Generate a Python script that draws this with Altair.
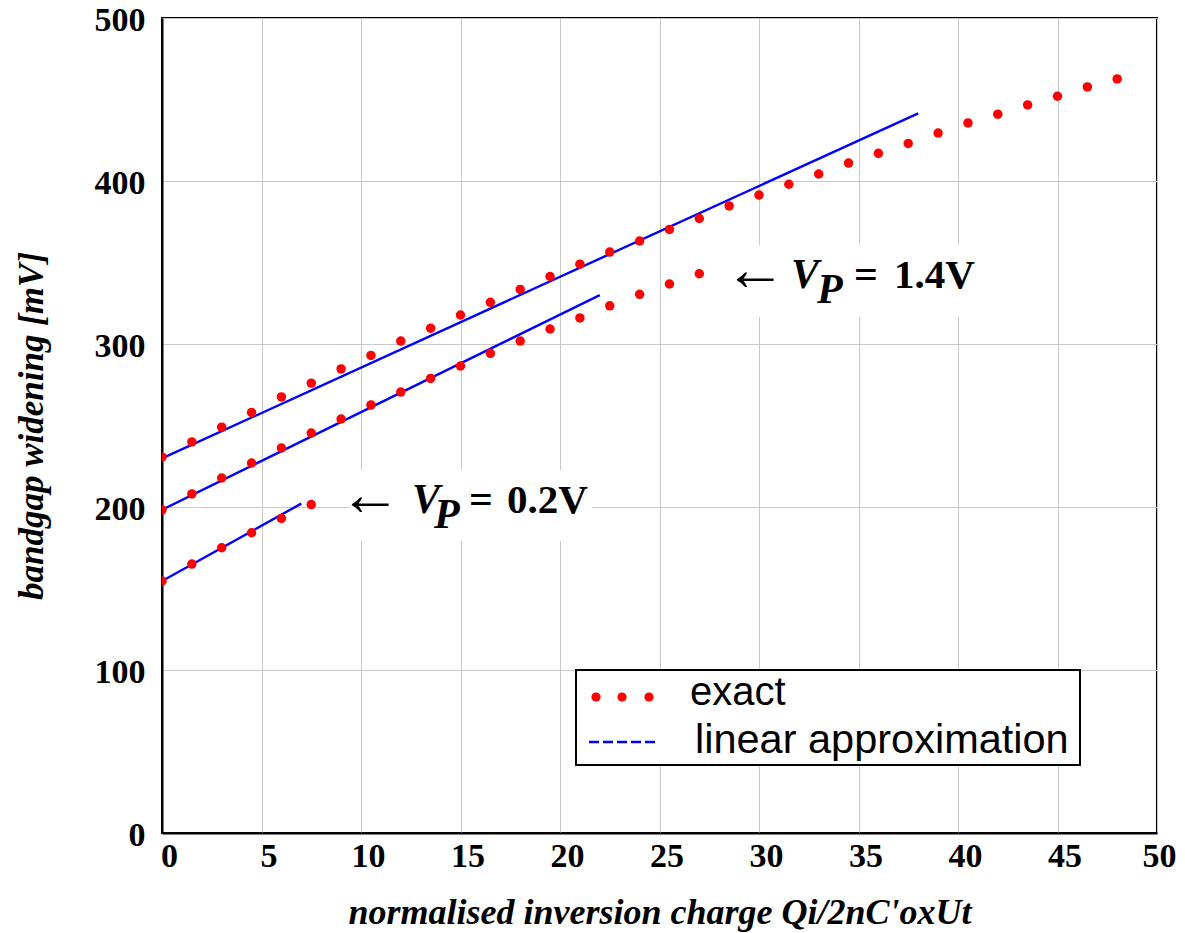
import altair as alt
import pandas as pd

# ---- data ----
x_exact = [0, 1.5, 3, 4.5, 6, 7.5, 9, 10.5, 12, 13.5, 15, 16.5, 18, 19.5, 21, 22.5,
           24, 25.5, 27, 28.5, 30, 31.5, 33, 34.5, 36, 37.5, 39, 40.5, 42, 43.5, 45,
           46.5, 48]
top_exact = [230.7, 239.9, 249.0, 258.0, 267.5, 276.0, 284.7, 293.0, 301.8, 309.7,
             317.8, 325.6, 333.5, 341.4, 349.0, 356.4, 363.2, 370.3, 377.0, 384.7,
             391.4, 398.0, 404.3, 411.0, 417.0, 423.0, 429.4, 435.6, 441.0, 446.7,
             452.0, 457.7, 462.6]
mid_exact = [198.2, 208.0, 217.8, 227.0, 236.2, 245.4, 254.0, 262.6, 270.5, 278.9,
             286.5, 294.3, 301.8, 309.2, 316.0, 323.4, 330.5, 336.8, 343.1]
low_exact = [154.6, 165.0, 175.0, 184.2, 193.0, 201.5]

lin_series = ["top", "top", "mid", "mid", "low", "low"]
lin_x = [0, 38, 0, 22, 0, 7]
lin_y = [229.8, 441.5, 198.3, 330.0, 154.6, 202.1]

x_ticks = [0, 5, 10, 15, 20, 25, 30, 35, 40, 45, 50]
y_ticks = [0, 100, 200, 300, 400, 500]

# ---- tables ----
rows = []
for name, ys in [("top", top_exact), ("mid", mid_exact), ("low", low_exact)]:
    for xv, yv in zip(x_exact, ys):
        rows.append({"series": name, "x": xv, "y": yv})
exact_df = pd.DataFrame(rows)
lin_df = pd.DataFrame({"series": lin_series, "x": lin_x, "y": lin_y})

SERIF = "Liberation Serif"
SANS = "Liberation Sans"

xscale = alt.Scale(domain=[0, 50], nice=False, zero=False)
yscale = alt.Scale(domain=[0, 500], nice=False)

xaxis = alt.Axis(values=x_ticks, grid=True, gridColor="#c8c8c8", gridWidth=1,
                 tickSize=0, domainColor="black", domainWidth=2,
                 labelFont=SERIF, labelFontWeight="bold", labelFontSize=34,
                 labelColor="black", labelPadding=6,
                 labelOffset={"condition": {"test": "datum.value === 50", "value": 2}, "value": 7},
                 labelFlush=False,
                 title="normalised inversion charge Qi/2nC'oxUt",
                 titleFont=SERIF, titleFontStyle="italic", titleFontWeight="bold",
                 titleFontSize=36, titleColor="black", titleBaseline="alphabetic",
                 titleX=497.5, titleY=90, titleAnchor="middle", titleAlign="center")
yaxis = alt.Axis(values=y_ticks, grid=True, gridColor="#c8c8c8", gridWidth=1,
                 tickSize=0, domainColor="black", domainWidth=2,
                 labelFont=SERIF, labelFontWeight="bold", labelFontSize=34,
                 labelColor="black", labelPadding=17, labelOffset=2, labelFlush=False,
                 title="bandgap widening [mV]",
                 titleFont=SERIF, titleFontStyle="italic", titleFontWeight="bold",
                 titleFontSize=35, titleColor="black", titleBaseline="alphabetic",
                 titleAngle=270, titleX=-120, titleY=407.5, titleAlign="center")

one = pd.DataFrame({"a": [0]})

def box(x1, x2, y1, y2, stroke=None):
    kw = dict(fill="white", strokeWidth=2)
    if stroke:
        kw["stroke"] = stroke
    return alt.Chart(one).mark_rect(**kw).encode(
        x=alt.value(x1), x2=alt.value(x2), y=alt.value(y1), y2=alt.value(y2))

def txt(s, x, y, font=SERIF, size=40, weight="bold", style="normal", baseline="alphabetic"):
    return alt.Chart(one).mark_text(text=s, font=font, fontSize=size, fontWeight=weight,
                                    fontStyle=style, align="left", baseline=baseline,
                                    color="black").encode(x=alt.value(x), y=alt.value(y))

# annotation background boxes (hide gridlines)
bg14 = box(558, 823, 227, 299)
bg02 = box(188, 430, 452, 523)

lines = alt.Chart(lin_df).mark_line(color="#0000ff", strokeWidth=2.4, clip=True).encode(
    x=alt.X("x:Q", scale=xscale, axis=xaxis),
    y=alt.Y("y:Q", scale=yscale, axis=yaxis),
    detail="series:N")

points = alt.Chart(exact_df).mark_circle(color="#ff0000", size=90, opacity=1, clip=True).encode(
    x=alt.X("x:Q", scale=xscale),
    y=alt.Y("y:Q", scale=yscale))

# annotations
ann = [
    txt("←", 562, 253, size=62, weight="normal", baseline="middle"),
    txt("V", 629, 270, size=42, style="italic"),
    txt("P", 655, 285, size=42, style="italic"),
    txt("=", 692, 270, size=42),
    txt("1.4V", 732, 270, size=41),
    txt("←", 177, 478, size=62, weight="normal", baseline="middle"),
    txt("V", 250, 495, size=42, style="italic"),
    txt("P", 272, 510, size=42, style="italic"),
    txt("=", 307, 495, size=42),
    txt("0.2V", 345, 495, size=41),
]

# legend
leg_box = box(414, 918, 652, 747, stroke="black")
leg_dots = alt.Chart(pd.DataFrame({"px": [434, 460, 487]})).mark_circle(
    color="#ff0000", size=85, opacity=1).encode(x=alt.X("px:Q", scale=None), y=alt.value(679))
leg_dash = alt.Chart(one).mark_rule(color="#0000ff", strokeWidth=2.6, strokeDash=[10, 4]).encode(
    x=alt.value(427), x2=alt.value(494), y=alt.value(724))
leg_t1 = txt("exact", 528, 687, font=SANS, weight="normal")
leg_t2 = txt("linear approximation", 533, 735, size=41.5, font=SANS, weight="normal")

chart = alt.layer(bg14, bg02, lines, points, *ann, leg_box, leg_dots, leg_dash, leg_t1, leg_t2).properties(
    width=995, height=815,
    autosize=alt.AutoSizeParams(type="none"),
    padding={"left": 154, "top": 10, "right": 20, "bottom": 100},
).configure_view(stroke="black", strokeWidth=2)

chart.save("out.html", embed_options={"renderer": "svg", "actions": False})
